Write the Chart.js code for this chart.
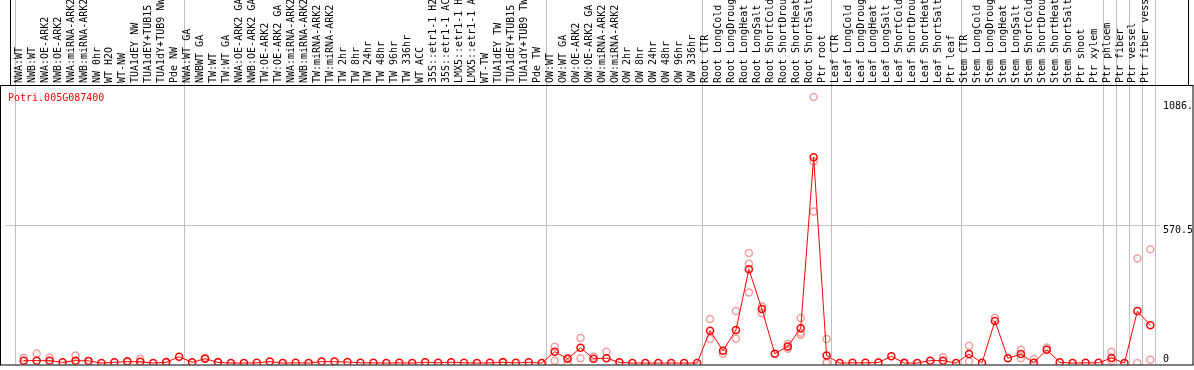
<!DOCTYPE html>
<html>
<head>
<meta charset="utf-8">
<script src="https://cdn.jsdelivr.net/npm/chart.js@4/dist/chart.umd.min.js"></script>
<style>
  html, body { margin: 0; padding: 0; background: #fff; }
</style>
</head>
<body>
<canvas id="expr" width="1194" height="370"></canvas>
<script>
// gene shown in the panel
const geneId = 'Potri.005G087400';

// sample names (as they appear, cut to 14 chars)
const samples = [
  'NWA:WT', 'NWB:WT', 'NWA:OE-ARK2', 'NWB:OE-ARK2', 'NWA:miRNA-ARK2', 'NWB:miRNA-ARK2',
  'NW 0hr', 'WT H2O', 'WT-NW', 'TUA1dEY NW', 'TUA1dEY+TUB15', 'TUA1dY+TUB9 NW', 'Pde NW',
  'NWA:WT GA', 'NWBWT GA', 'TW:WT', 'TW:WT GA', 'NWA:OE-ARK2 GA', 'NWB:OE-ARK2 GA',
  'TW:OE-ARK2', 'TW:OE-ARK2 GA', 'NWA:miRNA-ARK2', 'NWB:miRNA-ARK2', 'TW:miRNA-ARK2',
  'TW:miRNA-ARK2', 'TW 2hr', 'TW 8hr', 'TW 24hr', 'TW 48hr', 'TW 96hr', 'TW 336hr',
  'WT ACC', '35S::etr1-1 H2', '35S::etr1-1 AC', 'LMX5::etr1-1 H', 'LMX5::etr1-1 A',
  'WT-TW', 'TUA1dEY TW', 'TUA1dEY+TUB15', 'TUA1dY+TUB9 TW', 'Pde TW',
  'OW:WT', 'OW:WT GA', 'OW:OE-ARK2', 'OW:OE-ARK2 GA', 'OW:miRNA-ARK2', 'OW:miRNA-ARK2',
  'OW 2hr', 'OW 8hr', 'OW 24hr', 'OW 48hr', 'OW 96hr', 'OW 336hr',
  'Root CTR', 'Root LongCold', 'Root LongDroug', 'Root LongHeat', 'Root LongSalt',
  'Root ShortCold', 'Root ShortDrou', 'Root ShortHeat', 'Root ShortSalt', 'Ptr root',
  'Leaf CTR', 'Leaf LongCold', 'Leaf LongDroug', 'Leaf LongHeat', 'Leaf LongSalt',
  'Leaf ShortCold', 'Leaf ShortDrou', 'Leaf ShortHeat', 'Leaf ShortSalt', 'Ptr leaf',
  'Stem CTR', 'Stem LongCold', 'Stem LongDroug', 'Stem LongHeat', 'Stem LongSalt',
  'Stem ShortCold', 'Stem ShortDrou', 'Stem ShortHeat', 'Stem ShortSalt', 'Ptr shoot',
  'Ptr xylem', 'Ptr phloem', 'Ptr fiber', 'Ptr vessel', 'Ptr fiber vess'
];

// mean expression per sample
const meanExpr = [
  10, 10, 10, 3, 10, 9, 0, 3, 6, 5, 0, 3, 26,
  3, 18, 3, 0, 0, 1, 6, 0, 1, 0, 6, 6, 4, 1, 1, 0, 1, 0, 3, 1, 3, 1, 0, 1, 3, 1, 3, 0,
  47, 18, 63, 18, 20, 3, 0, 0, 0, 0, 0, 0,
  134, 51, 137, 388, 224, 39, 69, 144, 852, 31,
  0, 1, 1, 2, 28, 0, 0, 10, 10, 0,
  37, 1, 174, 20, 37, 1, 55, 3, 0, 1,
  1, 21, 0, 215, 156
];

// single replicates (null = hidden under the mean marker)
const rep1 = [
  22, 40, 22, null, 31, null, null, null, 8, 18, null, 5, null,
  null, 22, 4, null, null, null, null, null, null, null, null, null, null, null, null, null, null, null, null, null, null, null, null, null, 5, null, null, null,
  67, 21, 104, 27, 47, null, null, null, null, null, null, null,
  182, 39, 215, 456, 235, null, 80, 186, 1101, 100,
  null, null, null, null, null, 2, null, null, 24, null,
  72, null, 187, null, 55, 17, 64, null, null, null,
  null, 47, null, 433, 471
];
const rep2 = [
  null, null, null, null, null, null, null, null, null, null, null, null, null,
  null, null, null, null, null, null, null, null, null, null, null, null, null, null, null, null, null, null, null, null, null, null, null, null, null, null, null, null,
  10, 0, 20, null, null, null, null, null, null, null, null, null,
  100, null, 101, 411, 206, null, 59, 125, 835, 3,
  null, null, null, null, null, null, null, null, null, null,
  6, null, null, null, 20, null, null, null, null, null,
  null, 10, null, 0, 14
];
const rep3 = [
  null, null, null, null, null, null, null, null, null, null, null, null, null,
  null, null, null, null, null, null, null, null, null, null, null, null, null, null, null, null, null, null, null, null, null, null, null, null, null, null, null, null,
  null, null, null, null, null, null, null, null, null, null, null, null,
  null, null, null, 292, null, null, null, 117, 627, 0,
  null, null, null, null, null, null, null, null, null, null,
  null, null, null, null, null, null, null, null, null, null,
  null, null, null, null, null
];

// y axis ticks shown on the right
const yTickValues = [0, 570.5, 1086];
const yTickLabels = ['0', '570.5', '1086.'];

// first sample index of each group (separator lines)
const groupStarts = [0, 13, 41, 53, 63, 73, 84, 85, 86, 87, 88];

const monoFont = '10px "DejaVu Sans Mono", monospace';

const toPoints = arr => arr.map((v, i) => ({ x: i, y: v }));

// frame, separators, title and y labels
const panelDeco = {
  id: 'panelDeco',
  beforeDraw(chart) {
    const { ctx, chartArea: a, scales: { x } } = chart;
    ctx.save();
    ctx.fillStyle = '#fff';
    ctx.fillRect(0, 0, chart.width, chart.height);
    ctx.strokeStyle = '#c0c0c0';
    ctx.lineWidth = 1;
    groupStarts.forEach(k => {
      const px = Math.round(x.getPixelForValue(k - 0.64)) + 0.5;
      ctx.beginPath();
      ctx.moveTo(px, 0);
      ctx.lineTo(px, a.bottom);
      ctx.stroke();
    });
    ctx.restore();
  },
  afterDraw(chart) {
    const { ctx, chartArea: a, scales: { y } } = chart;
    ctx.save();
    ctx.strokeStyle = '#000';
    ctx.lineWidth = 1;
    ctx.strokeRect(0.5, a.top + 0.5, chart.width - 1.5, a.bottom - a.top);
    ctx.beginPath();
    ctx.moveTo(10.5, 0); ctx.lineTo(10.5, a.top);
    ctx.moveTo(chart.width - 5.5, 0); ctx.lineTo(chart.width - 5.5, a.top);
    ctx.stroke();

    ctx.font = monoFont;
    ctx.textBaseline = 'alphabetic';
    ctx.textAlign = 'left';
    ctx.fillStyle = '#ff0000';
    ctx.fillText(geneId, 8, a.top + 16);

    ctx.fillStyle = '#000';
    yTickValues.forEach((v, i) => {
      const py = Math.min(y.getPixelForValue(v) + 8, a.bottom - 3);
      ctx.fillText(yTickLabels[i], a.right + 3, py);
    });
    ctx.restore();
  }
};

const pale = '#f0a0a0';
const repSet = arr => ({
  data: toPoints(arr),
  showLine: false,
  pointRadius: 3.5,
  pointBorderWidth: 1.5,
  pointBorderColor: pale,
  pointBackgroundColor: 'rgba(0,0,0,0)',
  order: 1
});

new Chart(document.getElementById('expr'), {
  type: 'line',
  data: {
    datasets: [
      {
        data: toPoints(meanExpr),
        borderColor: '#ff0000',
        borderWidth: 1,
        pointRadius: 3.5,
        pointBorderWidth: 1.5,
        pointBorderColor: '#ff0000',
        pointBackgroundColor: 'rgba(0,0,0,0)',
        tension: 0,
        order: 0
      },
      repSet(rep1),
      repSet(rep2),
      repSet(rep3)
    ]
  },
  options: {
    responsive: false,
    animation: false,
    devicePixelRatio: 1,
    layout: { padding: { left: 1, right: 1, top: 0, bottom: 1 } },
    plugins: { legend: { display: false }, tooltip: { enabled: false } },
    scales: {
      x: {
        type: 'linear',
        position: 'top',
        min: -1.408,
        max: 87.746,
        grid: { display: false },
        border: { display: false },
        ticks: {
          autoSkip: false,
          minRotation: 90,
          maxRotation: 90,
          padding: -6,
          labelOffset: 7.5,
          color: '#000',
          font: { family: '"DejaVu Sans Mono", monospace', size: 10 },
          callback: v => samples[Math.round(v)] ?? ''
        },
        afterBuildTicks: s => { s.ticks = samples.map((_, i) => ({ value: i })); },
        afterFit: s => { s.height = 85; }
      },
      y: {
        type: 'linear',
        position: 'right',
        min: -6,
        max: 1151,
        border: { display: false },
        grid: {
          drawTicks: false,
          lineWidth: 1,
          color: c => (c.tick && c.tick.value === 570.5) ? '#c0c0c0' : 'rgba(0,0,0,0)'
        },
        ticks: { display: false },
        afterBuildTicks: s => { s.ticks = yTickValues.map(v => ({ value: v })); },
        afterFit: s => { s.width = 33; }
      }
    }
  },
  plugins: [panelDeco]
});
</script>
</body>
</html>
